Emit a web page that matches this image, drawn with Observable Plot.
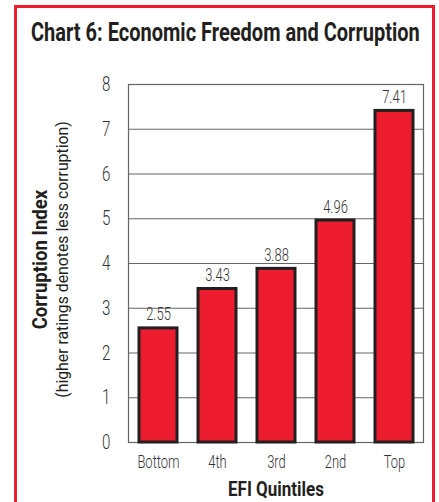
<!DOCTYPE html>
<html>
<head>
<meta charset="utf-8">
<script src="https://cdn.jsdelivr.net/npm/d3@7"></script>
<script src="https://cdn.jsdelivr.net/npm/@observablehq/plot@0.6"></script>
<style>
  html, body { margin: 0; padding: 0; background: #fff; overflow: hidden; }
  body { width: 439px; height: 502px; position: relative; font-family: Roboto, "Liberation Sans", sans-serif; }
  #panel {
    position: absolute; left: 14px; top: 5px; width: 415px; height: 560px;
    border: 3px solid #ed1c2e; border-bottom: none;
  }
  #title {
    position: absolute; left: 0; top: 19px; width: 439px; height: 30px;
    font-size: 26px; line-height: 26px; font-weight: bold; color: #231f20; white-space: nowrap;
  }
  #title span { position: absolute; top: 0; left: 0; display: inline-block; transform-origin: 0 0; }
  #chart { position: absolute; left: 0; top: 60px; }
</style>
</head>
<body>
<div id="panel"></div>
<div id="title"><span>Chart 6: Economic Freedom and Corruption</span></div>
<div id="chart"></div>
<script>
// EFI quintiles and their average corruption index
const categories = ["Bottom", "4th", "3rd", "2nd", "Top"];
const values = [2.55, 3.43, 3.88, 4.96, 7.41];
const yTicks = [0, 1, 2, 3, 4, 5, 6, 7, 8];
const xLabel = "EFI Quintiles";
const yLabel = "Corruption Index";
const yNote = "(higher ratings denotes less corruption)";

const data = categories.map((c, i) => ({quintile: c, value: values[i]}));

// condensed look: squeeze text runs horizontally
const SQUEEZE = 0.72;
const labelSqueeze = new Map([[xLabel, 0.81], [yLabel, 0.93], [yNote, 0.93]]);
const TITLE_SQUEEZE = 0.77;

const chart = Plot.plot({
  width: 439,
  height: 442,
  marginTop: 24,
  marginBottom: 60,
  marginLeft: 128,
  marginRight: 16,
  style: {fontFamily: "Roboto, 'Liberation Sans', sans-serif", background: "transparent", overflow: "visible"},
  x: {domain: categories, paddingInner: 0.36, paddingOuter: 0.15, label: null},
  y: {domain: [0, 8], ticks: yTicks, label: null},
  marks: [
    Plot.gridY(yTicks, {stroke: "#666", strokeOpacity: 1, strokeWidth: 1.2}),
    Plot.frame({stroke: "#666", strokeWidth: 1.2}),
    Plot.barY(data, {x: "quintile", y: "value", fill: "#ed1c2e", stroke: "#231f20", strokeWidth: 3}),
    Plot.axisY({ticks: yTicks, tickSize: 0, tickPadding: 18, fontSize: 21, fontWeight: 300, color: "#333", label: null}),
    Plot.axisX({tickSize: 0, tickPadding: 13, fontSize: 18, fontWeight: 300, color: "#333", label: null}),
    Plot.text(data, {x: "quintile", y: "value", text: d => d.value.toFixed(2), lineAnchor: "bottom", dy: -8, fontSize: 18, fontWeight: 300, fill: "#333"}),
    Plot.text([xLabel], {frameAnchor: "bottom", text: d => d, dy: 53, lineAnchor: "bottom", fontSize: 21, fontWeight: "bold", fill: "#231f20"}),
    Plot.text([yLabel], {frameAnchor: "left", text: d => d, textAnchor: "middle", rotate: -90, dx: -88, dy: -4, fontSize: 20, fontWeight: "bold", fill: "#231f20"}),
    Plot.text([yNote], {frameAnchor: "left", text: d => d, textAnchor: "middle", rotate: -90, dx: -66, dy: -4, fontSize: 17, fill: "#231f20"})
  ]
});

document.getElementById("chart").append(chart);

// squeeze each svg text horizontally about its own anchor point
chart.querySelectorAll("text").forEach(t => {
  const k = labelSqueeze.get(t.textContent) ?? SQUEEZE;
  const xa = t.getAttribute("x");
  let x = 0;
  if (xa !== null && /^-?[\d.]+$/.test(xa.trim())) {
    x = +xa;
    t.removeAttribute("x");
  }
  const tr = t.getAttribute("transform") || "";
  t.setAttribute("transform", `${tr} translate(${x},0) scale(${k},1)`.trim());
});

// and the title, kept centred over the panel
const span = document.querySelector("#title span");
const w = span.getBoundingClientRect().width;
span.style.left = `${225 - (w * TITLE_SQUEEZE) / 2}px`;
span.style.transform = `scaleX(${TITLE_SQUEEZE})`;
</script>
</body>
</html>
